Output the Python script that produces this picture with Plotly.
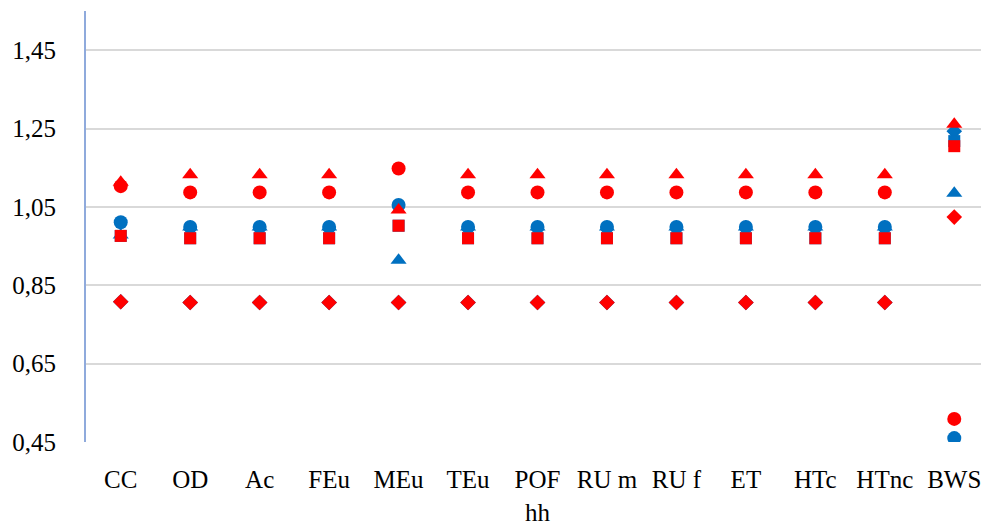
import plotly.graph_objects as go

categories = ["CC", "OD", "Ac", "FEu", "MEu", "TEu", "POF<br>hh", "RU m", "RU f",
              "ET", "HTc", "HTnc", "BWS"]

# blue series
blue_circle = [1.011, 0.999, 0.999, 0.999, 1.055, 0.999, 0.999, 0.999, 0.999, 0.999, 0.999, 0.999, 0.460]
blue_triangle = [0.978, 0.999, 0.999, 0.999, 0.914, 0.999, 0.999, 0.999, 0.999, 0.999, 0.999, 0.999, 1.085]
blue_square = [0.976, 0.970, 0.970, 0.970, 1.002, 0.970, 0.970, 0.970, 0.970, 0.970, 0.970, 0.970, 1.218]
blue_diamond = [0.808, 0.806, 0.806, 0.806, 0.806, 0.806, 0.806, 0.806, 0.806, 0.806, 0.806, 0.806, 1.243]

# red series
red_triangle = [1.113, 1.132, 1.132, 1.132, 1.042, 1.132, 1.132, 1.132, 1.132, 1.132, 1.132, 1.132, 1.261]
red_circle = [1.103, 1.087, 1.087, 1.087, 1.148, 1.087, 1.087, 1.087, 1.087, 1.087, 1.087, 1.087, 0.509]
red_square = [0.976, 0.970, 0.970, 0.970, 1.002, 0.970, 0.970, 0.970, 0.970, 0.970, 0.970, 0.970, 1.205]
red_diamond = [0.808, 0.806, 0.806, 0.806, 0.806, 0.806, 0.806, 0.806, 0.806, 0.806, 0.806, 0.806, 1.024]

tick_vals = [0.45, 0.65, 0.85, 1.05, 1.25, 1.45]
tick_text = ["0,45", "0,65", "0,85", "1,05", "1,25", "1,45"]

BLUE = "#0070C0"
RED = "#FF0000"

fig = go.Figure()

series = [
    (blue_diamond, BLUE, "diamond", 12),
    (blue_square, BLUE, "square", 12),
    (blue_triangle, BLUE, "triangle-up", 14),
    (blue_circle, BLUE, "circle", 14),
    (red_diamond, RED, "diamond", 12),
    (red_triangle, RED, "triangle-up", 14),
    (red_circle, RED, "circle", 14),
    (red_square, RED, "square", 12),
]

for values, color, symbol, size in series:
    fig.add_trace(
        go.Scatter(
            x=categories,
            y=values,
            mode="markers",
            marker={"color": color, "symbol": symbol, "size": size, "line": {"width": 0}},
            showlegend=False,
        )
    )

# page body has an 8px margin, so the figure is sized to fit the window
fig.update_layout(
    width=981,
    height=519,
    margin={"l": 78, "r": 0, "t": 3, "b": 85},
    plot_bgcolor="white",
    paper_bgcolor="white",
    font={"family": "Liberation Serif, DejaVu Serif, serif", "size": 25, "color": "#000000"},
    xaxis={
        "type": "category",
        "range": [-0.5, 12.5],
        "showgrid": False,
        "showline": False,
        "ticks": "",
        "ticklabelstandoff": 20,
        "tickfont": {"size": 25},
    },
    yaxis={
        "range": [0.45, 1.55],
        "tickvals": tick_vals,
        "ticktext": tick_text,
        "showgrid": True,
        "gridcolor": "#D9D9D9",
        "gridwidth": 2,
        "zeroline": False,
        "showline": True,
        "linecolor": "#8FAADC",
        "linewidth": 2,
        "ticks": "",
        "ticklabelstandoff": 23,
        "tickfont": {"size": 25},
    },
)

fig.write_html("out.html")
